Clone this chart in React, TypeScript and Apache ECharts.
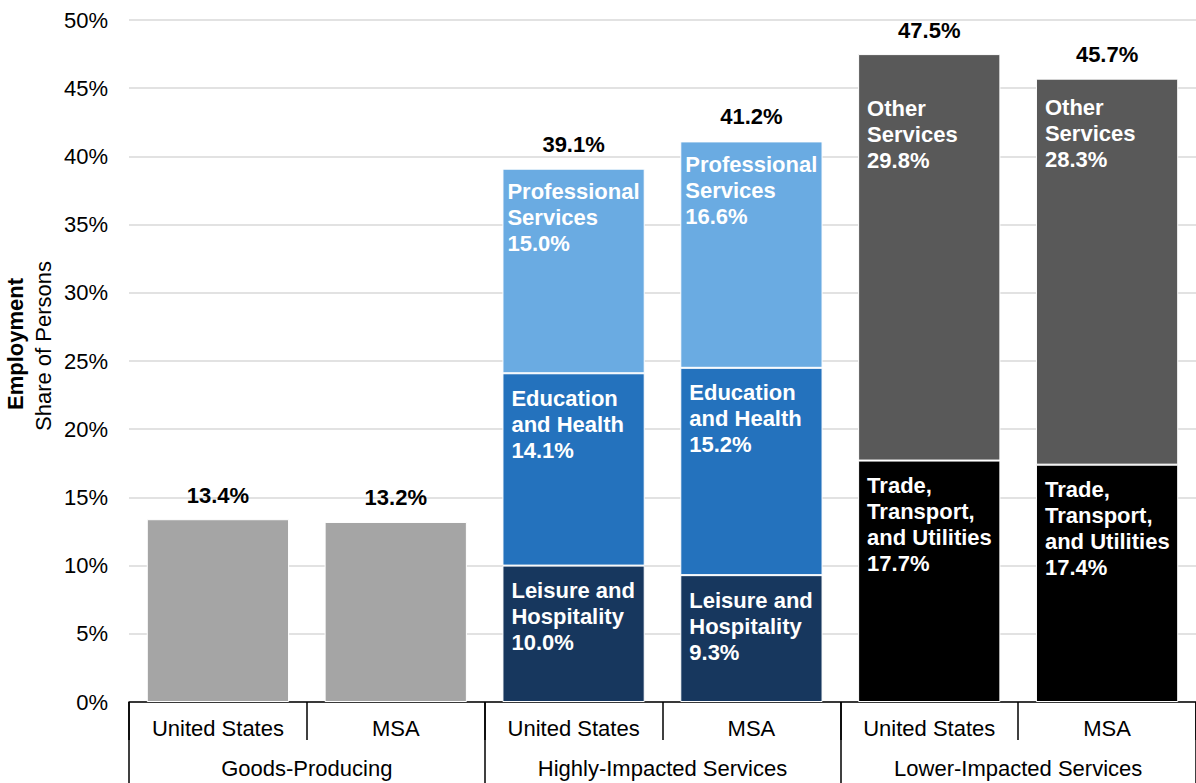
import React, { useEffect, useRef } from "react";
import * as echarts from "echarts";

const categories = ["United States", "MSA", "United States", "MSA", "United States", "MSA"];
const groups = ["Goods-Producing", "Highly-Impacted Services", "Lower-Impacted Services"];
const goodsProducing = [13.4, 13.2, null, null, null, null];
const leisureHospitality = [null, null, 10.0, 9.3, null, null];
const educationHealth = [null, null, 14.1, 15.2, null, null];
const professionalServices = [null, null, 15.0, 16.6, null, null];
const tradeTransport = [null, null, null, null, 17.7, 17.4];
const otherServices = [null, null, null, null, 29.8, 28.3];
const totals = [13.4, 13.2, 39.1, 41.2, 47.5, 45.7];
const yTicks = [0, 5, 10, 15, 20, 25, 30, 35, 40, 45, 50];

const FONT = "Liberation Sans, Arial, sans-serif";
const FS = 22;

export default function App() {
  const ref = useRef<HTMLDivElement>(null);
  useEffect(() => {
    if (!ref.current) return;
    const chart = echarts.init(ref.current, undefined, { renderer: "svg" });

    const segLabel = (name: string, pos: number[]) => ({
      show: true,
      position: pos,
      color: "#fff",
      fontFamily: FONT,
      fontSize: FS,
      fontWeight: "bold",
      lineHeight: 26,
      align: "left",
      verticalAlign: "top",
      formatter: (p: any) => `${name}\n${Number(p.value).toFixed(1)}%`,
    });

    const mk = (name: string, data: (number | null)[], color: string, label: any, itemLabel?: (i: number) => any) => ({
      type: "bar",
      name,
      stack: "a",
      barCategoryGap: "20%",
      barGap: "-100%",
      itemStyle: { color, borderColor: "#fff", borderWidth: 1 },
      label,
      data: data.map((v, i) => {
        if (v === null) return "-";
        const extra = itemLabel ? itemLabel(i) : null;
        return extra ? { value: v, label: extra } : v;
      }),
    });

    const option: any = {
      animation: false,
      textStyle: { fontFamily: FONT },
      grid: { left: 129, right: -4, top: 20, bottom: 81 },
      xAxis: [
        {
          type: "category",
          data: categories,
          position: "bottom",
          axisLine: { show: true, lineStyle: { color: "#000", width: 1.5 } },
          axisTick: { show: true, length: 38, lineStyle: { color: "#000", width: 1.5 } },
          axisLabel: { color: "#000", fontSize: FS, fontFamily: FONT, margin: 15 },
        },
        {
          type: "category",
          data: groups,
          position: "bottom",
          axisLine: { show: false },
          axisTick: { show: true, length: 81, lineStyle: { color: "#000", width: 1.5 } },
          axisLabel: { color: "#000", fontSize: FS, fontFamily: FONT, margin: 55 },
        },
      ],
      yAxis: {
        type: "value",
        min: 0,
        max: 50,
        interval: 5,
        axisLine: { show: false },
        axisTick: { show: false },
        axisLabel: {
          color: "#000",
          fontSize: FS,
          fontFamily: FONT,
          margin: 21,
          formatter: (v: number) => (yTicks.includes(v) ? `${v}%` : ""),
        },
        splitLine: { lineStyle: { color: "#d9d9d9", width: 1.5 } },
      },
      graphic: [
        {
          type: "text",
          x: 15,
          y: 344,
          rotation: Math.PI / 2,
          style: {
            text: "Employment",
            fontFamily: FONT,
            fontSize: FS,
            fontWeight: "bold",
            fill: "#000",
            align: "center",
            verticalAlign: "middle",
          },
        },
        {
          type: "text",
          x: 43,
          y: 346,
          rotation: Math.PI / 2,
          style: {
            text: "Share of Persons",
            fontFamily: FONT,
            fontSize: FS,
            fill: "#000",
            align: "center",
            verticalAlign: "middle",
          },
        },
      ],
      series: [
        mk("Goods-Producing", goodsProducing, "#a5a5a5", { show: false }),
        mk("Leisure and Hospitality", leisureHospitality, "#17375e", segLabel("Leisure and\nHospitality", [9, 12])),
        mk("Education and Health", educationHealth, "#2472bd", segLabel("Education\nand Health", [9, 12])),
        mk("Professional Services", professionalServices, "#6aabe2", segLabel("Professional\nServices", [5, 10])),
        mk("Trade, Transport, and Utilities", tradeTransport, "#000000", segLabel("Trade,\nTransport,\nand Utilities", [9, 12])),
        mk("Other Services", otherServices, "#595959", segLabel("Other\nServices", [9, 41]), (i) =>
          i === 5 ? { position: [9, 16] } : null
        ),
        {
          type: "bar",
          name: "Total",
          stack: "total",
          barCategoryGap: "20%",
          barGap: "-100%",
          z: 1,
          itemStyle: { color: "rgba(0,0,0,0)" },
          label: {
            show: true,
            position: "top",
            distance: 13,
            color: "#000",
            fontFamily: FONT,
            fontSize: FS,
            fontWeight: "bold",
            formatter: (p: any) => `${Number(p.value).toFixed(1)}%`,
          },
          data: totals,
        },
      ],
    };
    chart.setOption(option);
    return () => chart.dispose();
  }, []);
  return (
    <div
      ref={ref}
      style={{ position: "fixed", left: 0, top: 0, width: 1196, height: 783, background: "#fff" }}
    />
  );
}
